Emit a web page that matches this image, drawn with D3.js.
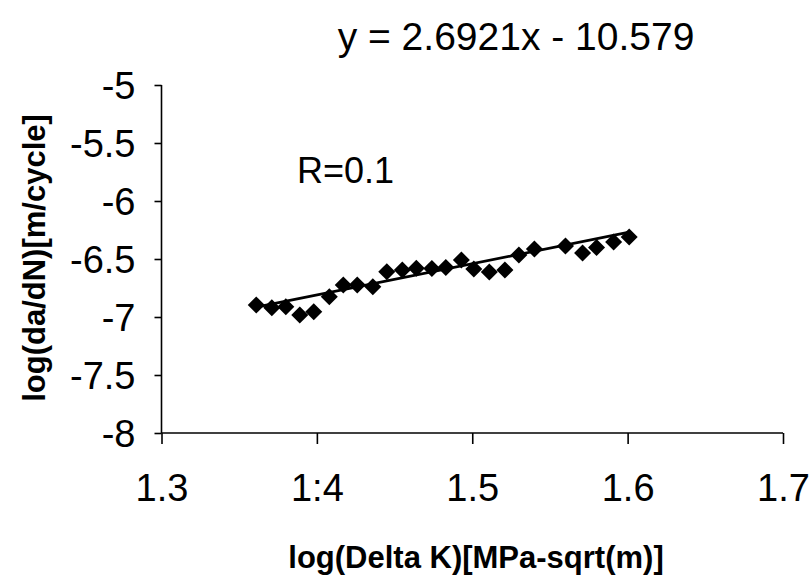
<!DOCTYPE html>
<html>
<head>
<meta charset="utf-8">
<script src="https://cdn.jsdelivr.net/npm/d3@7"></script>
<style>
  html, body { margin: 0; padding: 0; background: #fff; }
  svg text { font-family: "Liberation Sans", Arial, sans-serif; fill: #000; }
</style>
</head>
<body>
<svg width="811" height="584"></svg>
<script>
// log(Delta K) vs log(da/dN)
var logDeltaK = [1.361, 1.371, 1.380, 1.389, 1.398, 1.408, 1.417, 1.426, 1.436, 1.445,
                 1.455, 1.464, 1.474, 1.483, 1.493, 1.501, 1.511, 1.521, 1.530, 1.540,
                 1.560, 1.571, 1.580, 1.591, 1.601];
var logDaDN = [-6.897, -6.920, -6.911, -6.983, -6.954, -6.825, -6.724, -6.724, -6.739, -6.609,
               -6.595, -6.580, -6.582, -6.573, -6.509, -6.586, -6.612, -6.595, -6.466, -6.414,
               -6.388, -6.448, -6.401, -6.353, -6.310];
var xTicks = [1.3, 1.4, 1.5, 1.6, 1.7];
var yTicks = [-8, -7.5, -7, -6.5, -6, -5.5, -5];
var xTickLabels = ["1.3", "1:4", "1.5", "1.6", "1.7"];
var slope = 2.6921, intercept = -10.579;

var svg = d3.select("svg");
var x = d3.scaleLinear().domain([1.3, 1.7]).range([161.5, 783]);
var y = d3.scaleLinear().domain([-8, -5]).range([433, 85]);

// x axis
var xAxis = svg.append("g").attr("transform", "translate(0,433)")
    .call(d3.axisBottom(x).tickValues(xTicks).tickSize(11).tickPadding(28)
        .tickFormat(function(d, i){ return xTickLabels[i]; }));
xAxis.select(".domain").attr("d", "M" + x(1.3) + ",0H" + x(1.7));
xAxis.selectAll("text").attr("font-size", 38).attr("font-family", "Liberation Sans, Arial, sans-serif").attr("dy", "0.75em");

// y axis
var yAxis = svg.append("g").attr("transform", "translate(161.5,0)")
    .call(d3.axisLeft(y).tickValues(yTicks).tickSize(7).tickPadding(19)
        .tickFormat(function(d){ return d3.format("")(d).replace("\u2212", "-"); }));
yAxis.select(".domain").attr("d", "M0," + y(-5) + "V" + y(-8));
yAxis.selectAll("text").attr("font-size", 38).attr("font-family", "Liberation Sans, Arial, sans-serif").attr("dy", "0.36em");

svg.selectAll(".domain, .tick line").attr("stroke", "#000").attr("stroke-width", 1.6);

// trend line over the data range
var x0 = d3.min(logDeltaK), x1 = d3.max(logDeltaK);
svg.append("line")
    .attr("x1", x(x0)).attr("y1", y(slope * x0 + intercept))
    .attr("x2", x(x1)).attr("y2", y(slope * x1 + intercept))
    .attr("stroke", "#000").attr("stroke-width", 2.8);

// diamond markers
var diamond = d3.symbol().type(d3.symbolDiamond2).size(185);
svg.selectAll("path.pt").data(logDeltaK).enter().append("path")
    .attr("class", "pt")
    .attr("d", diamond)
    .attr("transform", function(d, i){ return "translate(" + x(d) + "," + y(logDaDN[i]) + ")"; })
    .attr("fill", "#000");

// equation and R
svg.append("text").attr("x", 516).attr("y", 50).attr("text-anchor", "middle")
    .attr("font-size", 39).text("y = 2.6921x - 10.579");
svg.append("text").attr("x", 297).attr("y", 183)
    .attr("font-size", 36).text("R=0.1");

// axis titles
svg.append("text").attr("x", 476).attr("y", 568).attr("text-anchor", "middle")
    .attr("font-size", 31).attr("font-weight", "bold").text("log(Delta K)[MPa-sqrt(m)]");
svg.append("text").attr("transform", "translate(45,258) rotate(-90)").attr("text-anchor", "middle")
    .attr("font-size", 31).attr("font-weight", "bold").text("log(da/dN)[m/cycle]");
</script>
</body>
</html>
